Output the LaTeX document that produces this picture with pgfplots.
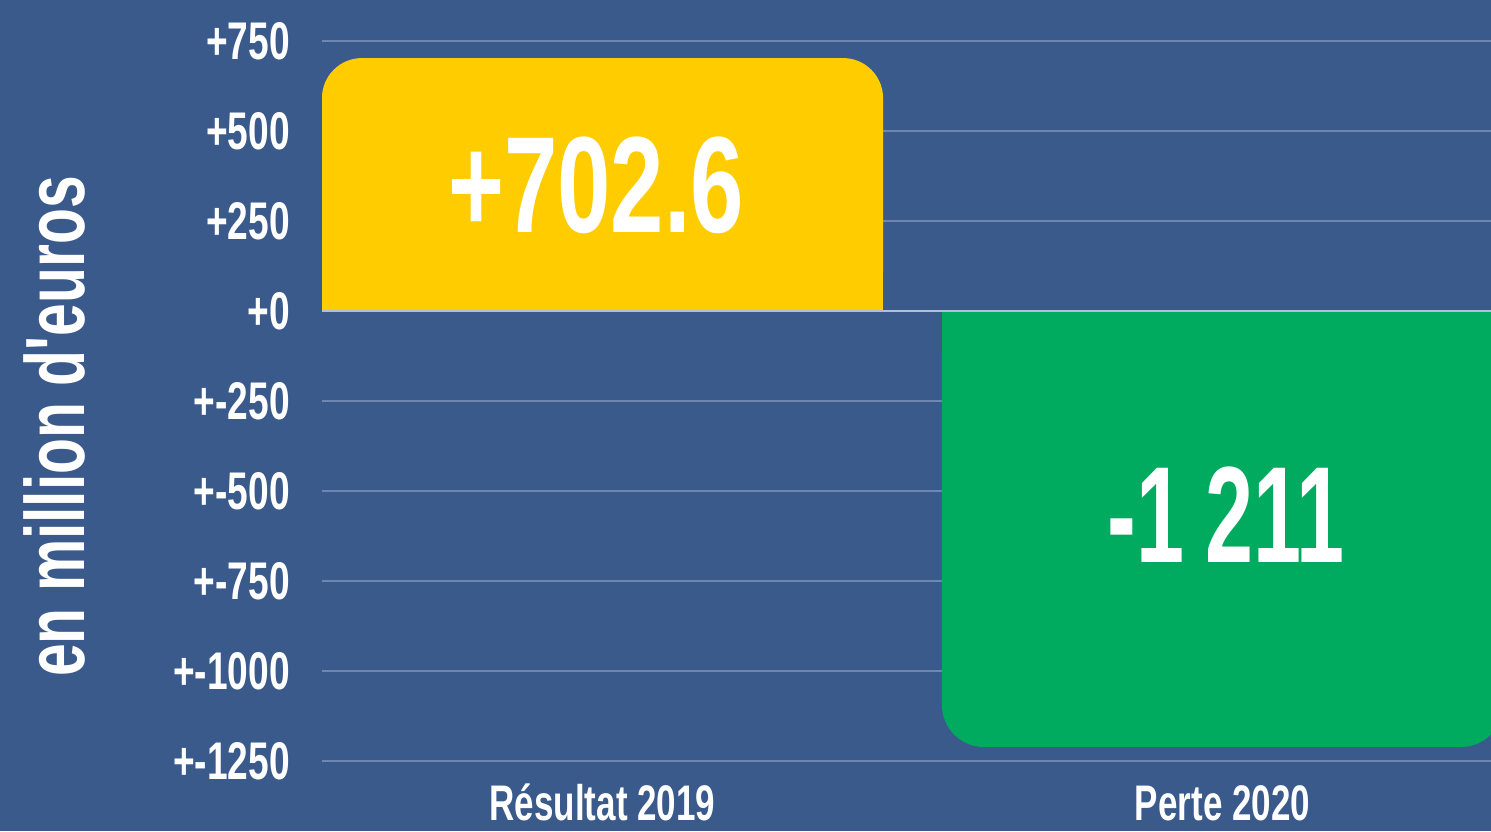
\documentclass[border=0pt]{standalone}
\usepackage{fontspec}
\usepackage{pgfplots}
\pgfplotsset{compat=1.18}
\newfontfamily\cf{Liberation Sans Bold}[FakeStretch=0.7]
\newfontfamily\cfn{Liberation Sans Bold}[FakeStretch=0.63]
\definecolor{bg}{HTML}{3A5A8C}
\definecolor{gridc}{HTML}{6E87B0}
\definecolor{zeroc}{HTML}{B3BFD3}
\definecolor{yel}{HTML}{FFCC00}
\definecolor{grn}{HTML}{00AB5F}
\begin{document}
\begin{tikzpicture}[x=1pt,y=1pt]
\fill[bg] (0,0) rectangle (1491,-831);
\useasboundingbox (0,0) rectangle (1491,-831);
\begin{axis}[
  at={(322pt,-761pt)}, anchor=south west,
  scale only axis, width=1169pt, height=720pt,
  xmin=-0.4524, xmax=1.433, ymin=-1250, ymax=750,
  ybar, bar width=0.905,
  axis line style={draw=none},
  major tick length=0pt,
  ytick={-1250,-1000,...,750},
  yticklabels={+-1250,+-1000,+-750,+-500,+-250,+0,+250,+500,+750},
  xtick={0,1}, xticklabels={Résultat 2019, Perte 2020},
  ymajorgrids, grid style={gridc, line width=2pt},
  yticklabel style={font=\cf\fontsize{53}{53}\selectfont, text=white, anchor=east, inner sep=0pt, xshift=-32pt},
  xticklabel style={font=\cf\fontsize{50}{50}\selectfont, text=white, anchor=base, inner sep=0pt, yshift=-59pt},
]
\addplot[fill=yel, draw=none, bar shift=0pt, rounded corners=40pt] coordinates {(0,702.6)};
\addplot[fill=yel, draw=none, bar shift=0pt] coordinates {(0,300)};
\addplot[fill=grn, draw=none, bar shift=0pt, rounded corners=42pt] coordinates {(1,-1211)};
\addplot[fill=grn, draw=none, bar shift=0pt] coordinates {(1,-600)};
\draw[zeroc, line width=2pt] (axis cs:-0.4524,0) -- (axis cs:1.433,0);
\node[text=white, font=\cf\fontsize{137}{137}\selectfont, inner sep=0pt] at (axis cs:-0.01,350) {+702.6};
\node[text=white, font=\cfn\fontsize{137}{137}\selectfont, inner sep=0pt] at (axis cs:1.006,-567) {-1\hspace{0.15em}211};
\end{axis}
\node[rotate=90, anchor=base, inner sep=0pt, text=white, font=\cf\fontsize{84}{84}\selectfont] at (84,-426.5) {en million d'euros};
\end{tikzpicture}
\end{document}
